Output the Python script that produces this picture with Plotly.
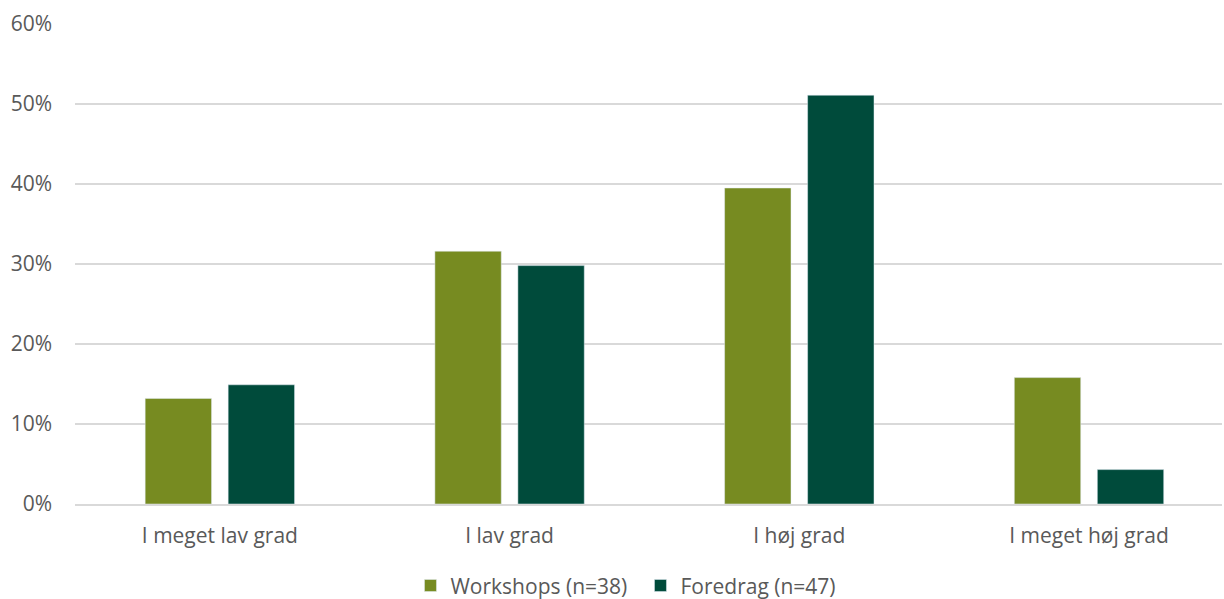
import plotly.graph_objects as go

categories = ["I meget lav grad", "I lav grad", "I høj grad", "I meget høj grad"]
workshops = [0.132, 0.316, 0.395, 0.158]
foredrag = [0.149, 0.298, 0.511, 0.043]
tick_vals = [0, 0.1, 0.2, 0.3, 0.4, 0.5, 0.6]
tick_text = ["0%", "10%", "20%", "30%", "40%", "50%", "60%"]

font = "Open Sans"
fs = 21
fig = go.Figure()
fig.add_trace(go.Bar(x=categories, y=workshops, name="Workshops (n=38)",
                     marker=dict(color="#778B21")))
fig.add_trace(go.Bar(x=categories, y=foredrag, name="Foredrag (n=47)",
                     marker=dict(color="#004B3B")))
fig.update_layout(
    width=1224, height=599,
    margin=dict(l=75, r=2, t=24, b=95),
    paper_bgcolor="white", plot_bgcolor="white",
    barmode="group", bargap=0.427, bargroupgap=0.2,
    font=dict(family=font, size=fs, color="#595959"),
    legend=dict(orientation="h", x=0.493, xanchor="center",
                yref="container", y=0.022, yanchor="middle",
                font=dict(size=fs, color="#595959"), traceorder="normal",
                itemwidth=30, entrywidth=185, entrywidthmode="pixels"),
    xaxis=dict(range=[-0.5, 3.459], showgrid=False, showline=True,
               linecolor="#D9D9D9", linewidth=2,
               ticks="", ticklabelstandoff=12, tickfont=dict(size=fs, color="#595959")),
    yaxis=dict(range=[0, 0.6], tickvals=tick_vals, ticktext=tick_text,
               showgrid=True, gridcolor="#D9D9D9", gridwidth=2,
               zeroline=False, ticks="", ticklabelstandoff=22,
               tickfont=dict(size=fs, color="#595959")),
)
fig.write_html("out.html")
